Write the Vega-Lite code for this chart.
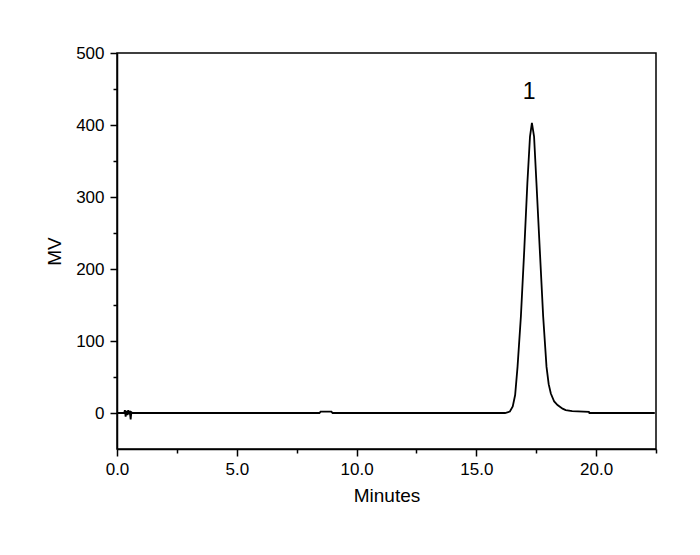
{
  "$schema": "https://vega.github.io/schema/vega-lite/v6.json",
  "width": 539,
  "height": 396,
  "autosize": "none",
  "padding": {"left": 117, "top": 53, "right": 44, "bottom": 106},
  "background": "white",
  "config": {
    "view": {"stroke": "black", "strokeWidth": 1.5},
    "font": "Liberation Sans",
    "axis": {
      "labelFont": "Liberation Sans",
      "titleFont": "Liberation Sans",
      "labelFontSize": 17,
      "titleFontSize": 19,
      "titleFontWeight": "normal",
      "labelColor": "black",
      "titleColor": "black",
      "domainColor": "black",
      "tickColor": "black",
      "domainWidth": 1.5,
      "tickWidth": 1.5,
      "grid": false
    }
  },
  "datasets": {
    "trace": [
      {"t": 0, "mv": 0}, {"t": 0.3, "mv": 0}, {"t": 0.33, "mv": 4}, {"t": 0.36, "mv": -5},
      {"t": 0.4, "mv": 3}, {"t": 0.43, "mv": -3}, {"t": 0.47, "mv": 4}, {"t": 0.5, "mv": -2},
      {"t": 0.53, "mv": 3}, {"t": 0.57, "mv": -9}, {"t": 0.6, "mv": 1}, {"t": 0.64, "mv": 0},
      {"t": 8.45, "mv": 0}, {"t": 8.5, "mv": 2}, {"t": 8.95, "mv": 2}, {"t": 9.0, "mv": 0},
      {"t": 16.2, "mv": 0}, {"t": 16.4, "mv": 2}, {"t": 16.52, "mv": 9}, {"t": 16.62, "mv": 25},
      {"t": 16.72, "mv": 64}, {"t": 16.86, "mv": 134}, {"t": 17.0, "mv": 226}, {"t": 17.13, "mv": 319},
      {"t": 17.24, "mv": 384}, {"t": 17.32, "mv": 403}, {"t": 17.41, "mv": 384}, {"t": 17.51, "mv": 319},
      {"t": 17.65, "mv": 226}, {"t": 17.79, "mv": 134}, {"t": 17.93, "mv": 64}, {"t": 18.02, "mv": 40},
      {"t": 18.11, "mv": 27}, {"t": 18.25, "mv": 16}, {"t": 18.39, "mv": 11}, {"t": 18.6, "mv": 6},
      {"t": 18.73, "mv": 4}, {"t": 19.0, "mv": 2.5}, {"t": 19.7, "mv": 1.5}, {"t": 19.72, "mv": 0},
      {"t": 22.45, "mv": 0}
    ],
    "labels": [{"t": 17.2, "mv": 446, "label": "1"}]
  },
  "layer": [
    {
      "data": {"name": "trace"},
      "mark": {"type": "line", "color": "black", "strokeWidth": 1.8, "clip": true},
      "encoding": {
        "x": {"field": "t", "type": "quantitative", "scale": {"domain": [0, 22.5], "nice": false, "zero": false},
          "axis": {"title": "Minutes", "orient": "bottom", "values": [0, 5, 10, 15, 20], "format": ".1f", "tickSize": 7, "labelPadding": 5, "titlePadding": 9, "labelFlush": false}},
        "y": {"field": "mv", "type": "quantitative", "scale": {"domain": [-50, 500], "nice": false, "zero": false},
          "axis": {"title": "MV", "orient": "left", "values": [0, 100, 200, 300, 400, 500], "format": "d", "tickSize": 7, "labelPadding": 6, "titlePadding": 11, "labelFlush": false}}
      }
    },
    {
      "data": {"name": "labels"},
      "mark": {"type": "text", "fontSize": 23, "font": "Liberation Sans", "color": "black", "baseline": "middle", "align": "center"},
      "encoding": {
        "x": {"field": "t", "type": "quantitative",
          "axis": {"title": null, "orient": "bottom", "values": [2.5, 7.5, 12.5, 17.5, 22.5], "labels": false, "domain": false, "tickSize": 4}},
        "y": {"field": "mv", "type": "quantitative",
          "axis": {"title": null, "orient": "left", "values": [50, 150, 250, 350, 450], "labels": false, "domain": false, "tickSize": 4}},
        "text": {"field": "label"}
      }
    }
  ],
  "resolve": {"axis": {"x": "independent", "y": "independent"}}
}
